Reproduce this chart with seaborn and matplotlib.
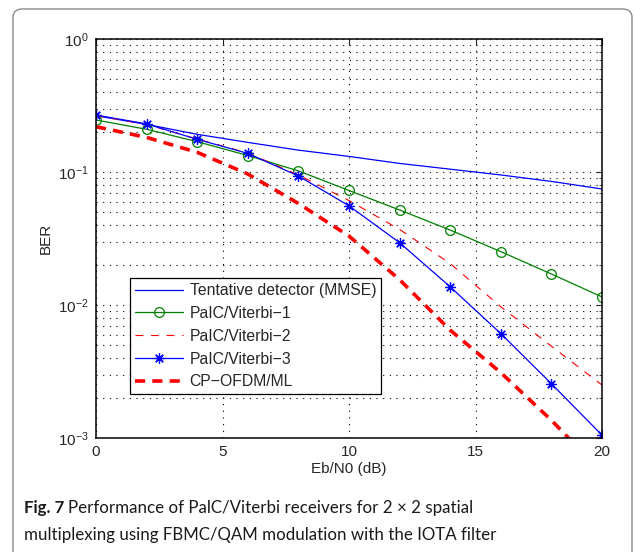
import matplotlib
matplotlib.use("Agg")
import matplotlib.pyplot as plt
import seaborn as sns
import numpy as np
from matplotlib.patches import FancyBboxPatch
from matplotlib.ticker import LogLocator, MultipleLocator, NullFormatter

# data
ebn0 = [0, 2, 4, 6, 8, 10, 12, 14, 16, 18, 20]
tentative = [0.265, 0.228, 0.192, 0.167, 0.146, 0.131, 0.116, 0.105, 0.095, 0.085, 0.0745]
viterbi1 = [0.246, 0.2095, 0.169, 0.133, 0.102, 0.0726, 0.0518, 0.0366, 0.0252, 0.0171, 0.0115]
viterbi2 = [0.265, 0.228, 0.177, 0.139, 0.095, 0.061, 0.037, 0.0205, 0.0097, 0.0049, 0.0025]
viterbi3 = [0.268, 0.230, 0.176, 0.138, 0.0933, 0.0557, 0.0294, 0.0137, 0.0061, 0.00256, 0.00105]
cp_ofdm = [0.219, 0.182, 0.1406, 0.0966, 0.058, 0.033, 0.0155, 0.00647, 0.0031, 0.00136, 0.00055]

labels = ["Tentative detector (MMSE)", "PaIC/Viterbi\u22121", "PaIC/Viterbi\u22122",
          "PaIC/Viterbi\u22123", "CP\u2212OFDM/ML"]

caption_bold = "Fig. 7"
caption_1 = "Performance of PalC/Viterbi receivers for 2 \u00d7 2 spatial"
caption_2 = "multiplexing using FBMC/QAM modulation with the IOTA filter"

sns.set_style("white")
plt.rcParams['font.family'] = ['Liberation Sans', 'DejaVu Sans']
plt.rcParams['mathtext.default'] = 'regular'

fig = plt.figure(figsize=(6.35, 5.52), dpi=100)

# rounded frame around figure + caption
frame = FancyBboxPatch((13 / 635, -0.05), 619 / 635, 1 - 9 / 552 + 0.05,
                       boxstyle="round,pad=0,rounding_size=0.015",
                       transform=fig.transFigure, fill=False,
                       edgecolor="#8a8a8a", linewidth=1.0)
fig.patches.append(frame)

ax = fig.add_axes([96 / 635, 1 - 438 / 552, 506 / 635, 399 / 552])

sns.lineplot(x=ebn0, y=tentative, ax=ax, color="blue", linewidth=0.9, label=labels[0])
sns.lineplot(x=ebn0, y=viterbi1, ax=ax, color="#008000", linewidth=0.9, marker="o",
             markersize=7, mfc="none", mec="#008000", mew=0.9, label=labels[1])
sns.lineplot(x=ebn0, y=viterbi2, ax=ax, color="red", linewidth=0.8,
             linestyle=(0, (7, 7)), label=labels[2])
sns.lineplot(x=ebn0, y=viterbi3, ax=ax, color="blue", linewidth=0.9, marker=(8, 2, 0),
             markersize=7.5, mfc="blue", mec="blue", mew=0.9, label=labels[3])
sns.lineplot(x=ebn0, y=cp_ofdm, ax=ax, color="red", linewidth=2.6,
             linestyle=(0, (2.8, 2.0)), label=labels[4])

ax.set_yscale("log")
ax.set_xlim(0, 20)
ax.set_ylim(1e-3, 1)
ax.xaxis.set_major_locator(MultipleLocator(5))
ax.yaxis.set_major_locator(LogLocator(base=10, numticks=10))
ax.yaxis.set_minor_locator(LogLocator(base=10, subs=np.arange(2, 10), numticks=20))
ax.yaxis.set_minor_formatter(NullFormatter())

ax.grid(True, which="major", axis="both", color="black", linestyle=(0, (1, 5)), linewidth=0.8)
ax.grid(True, which="minor", axis="y", color="black", linestyle=(0, (1, 5)), linewidth=0.8)

ax.tick_params(which="both", direction="in", top=True, right=True, labelsize=11, pad=5)
ax.tick_params(which="major", length=4, width=0.8)
ax.tick_params(which="minor", length=2.5, width=0.6)
for s in ax.spines.values():
    s.set_color("black")
    s.set_linewidth(1.1)

ax.set_xlabel("Eb/N0 (dB)", fontsize=11, labelpad=2)
ax.set_ylabel("BER", fontsize=11, labelpad=4)

leg = ax.legend(loc="lower left", bbox_to_anchor=(0.067, 0.110), borderaxespad=0,
                fontsize=11.3, fancybox=False, frameon=True, edgecolor="black",
                handlelength=3.1, handletextpad=0.4, labelspacing=0.5, borderpad=0.3)
leg.get_frame().set_linewidth(0.9)
leg.get_frame().set_alpha(1)

# caption: bold part then normal text
cap_font = ["Lato", "DejaVu Sans"]
renderer = fig.canvas.get_renderer()
t_bold = fig.text(24 / 635, 1 - 508 / 552, caption_bold, fontsize=12.2, fontweight="bold",
                  family=cap_font, va="center", color="#1a1a1a")
bb = t_bold.get_window_extent(renderer=renderer)
fig.text(bb.x1 / 635 + 4 / 635, 1 - 508 / 552, caption_1, fontsize=12.2,
         family=cap_font, va="center", color="#1a1a1a")
fig.text(24 / 635, 1 - 535 / 552, caption_2, fontsize=12.2,
         family=cap_font, va="center", color="#1a1a1a")

fig.savefig("out.png", dpi=100)
